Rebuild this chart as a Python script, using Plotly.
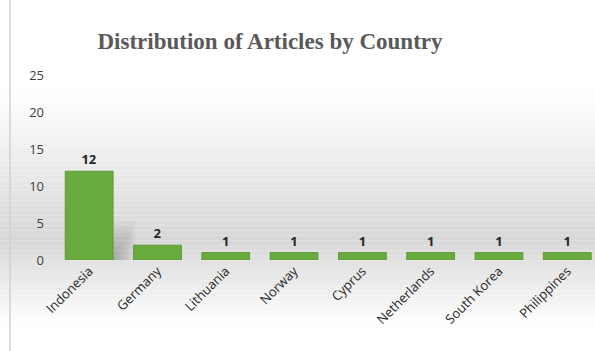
import plotly.graph_objects as go

countries = ["Indonesia", "Germany", "Lithuania", "Norway", "Cyprus",
             "Netherlands", "South Korea", "Philippines"]
articles = [12, 2, 1, 1, 1, 1, 1, 1]
y_ticks = [0, 5, 10, 15, 20, 25]

FONT = "Open Sans, Liberation Sans, sans-serif"

fig = go.Figure()
fig.add_trace(go.Bar(
    x=countries, y=articles,
    marker=dict(color="#6aab3f", line=dict(color="#5e9a37", width=1)),
    width=0.7,
    text=[str(v) for v in articles],
    textposition="outside",
    textfont=dict(family=FONT, size=13, color="#262626", weight="bold"),
    cliponaxis=False,
))

# background vertical gradient (paper coords; plot area top=75px, bottom=260px)
H = 351.0
n = 70
def shade(ypix):
    if ypix < 90:
        g = 255
    elif ypix < 240:
        t = (ypix - 90) / (240 - 90)
        g = 255 - t * 40
    elif ypix < 325:
        t = (ypix - 240) / (325 - 240)
        g = 215 + t * 40
    else:
        g = 255
    g = int(round(g))
    return f"rgb({g},{g},{g})"

shapes = []
for i in range(n):
    y0 = H * i / n
    y1 = H * (i + 1) / n
    shapes.append(dict(type="rect", xref="paper", yref="paper",
                       x0=-0.2, x1=1.1, y0=(260 - y1) / 185.0, y1=(260 - y0) / 185.0,
                       fillcolor=shade((y0 + y1) / 2), line=dict(width=0), layer="below"))
# soft diffuse shadow to the right of the tallest bar
m = 10
for k in range(m):
    f = k / (m - 1)
    shapes.append(dict(type="rect", xref="x", yref="y",
                       x0=0.35, x1=0.35 + 0.30 * (1 - f) + 0.03, y0=0, y1=4.8 * (1 - f) + 0.4,
                       fillcolor="rgba(60,60,60,0.035)", line=dict(width=0), layer="below"))
# left frame line
shapes.append(dict(type="line", xref="paper", yref="paper",
                   x0=(10 - 55) / 540.0, x1=(10 - 55) / 540.0,
                   y0=(260 - 351) / 185.0, y1=(260 - 0) / 185.0,
                   line=dict(color="#d0d0d0", width=1.5)))

fig.update_layout(
    width=595, height=351,
    margin=dict(l=55, r=0, t=75, b=91),
    paper_bgcolor="white",
    plot_bgcolor="rgba(0,0,0,0)",
    showlegend=False,
    shapes=shapes,
    title=dict(text="<b>Distribution of Articles by Country</b>",
               font=dict(family="Liberation Serif, Times New Roman, serif", size=23, color="#595959"),
               x=270 / 595, xanchor="center", xref="container",
               y=1 - 41 / 351, yanchor="middle", yref="container"),
    xaxis=dict(range=[-0.5, 7.406], tickangle=-45, showgrid=False, showline=False,
               tickfont=dict(family=FONT, size=13, color="#262626"),
               ticks="", fixedrange=True),
    yaxis=dict(range=[0, 25], tickvals=y_ticks, showgrid=False, zeroline=False, showline=False,
               tickfont=dict(family=FONT, size=13, color="#404040"),
               ticklabelstandoff=10, fixedrange=True),
)

fig.write_html("out.html")
